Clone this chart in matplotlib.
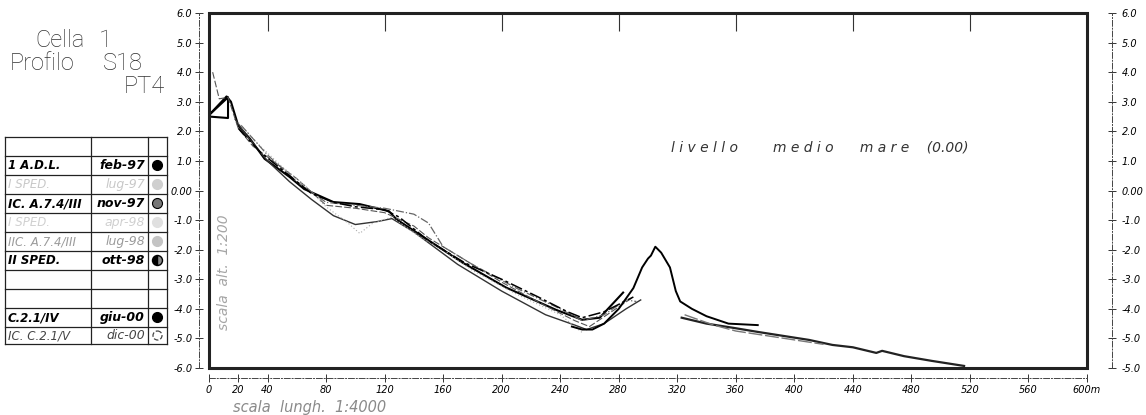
import matplotlib.pyplot as plt
from matplotlib.patches import Rectangle, Circle, Wedge

# ---- data read from the scanned profile (x in m, y in m s.l.m.) ----
feb97_x = [0, 13, 13, 0, 12, 15, 20, 28, 38, 55, 65, 85, 103, 123, 128, 173, 203, 237, 255, 267, 283]
feb97_y = [2.5, 2.45, 3.15, 2.55, 3.18, 3.0, 2.19, 1.75, 1.07, 0.46, 0.05, -0.39, -0.46, -0.70, -0.97,
           -2.43, -3.28, -4.03, -4.37, -4.30, -3.45]

lug97_x = [2.5, 7, 13, 20, 30, 45, 60, 80, 100, 120, 140, 150, 170, 200, 230, 250, 260, 275, 290]
lug97_y = [4.0, 3.1, 3.15, 2.1, 1.5, 0.95, 0.4, -0.5, -0.6, -0.75, -1.2, -1.6, -2.2, -3.1, -3.9, -4.4,
           -4.6, -4.1, -3.6]

nov97_x = [18, 25, 40, 55, 70, 85, 100, 115, 125, 140, 170, 200, 230, 250, 258, 270, 285, 295]
nov97_y = [2.4, 1.9, 1.0, 0.3, -0.3, -0.85, -1.15, -1.05, -0.95, -1.4, -2.5, -3.4, -4.2, -4.55, -4.7,
           -4.5, -4.0, -3.7]

apr98_x = [20, 35, 50, 65, 80, 95, 103, 112, 125, 145, 160, 180, 210, 240, 255]
apr98_y = [2.3, 1.5, 0.8, 0.2, -0.55, -1.1, -1.45, -1.1, -0.9, -1.6, -2.0, -2.7, -3.5, -4.2, -4.8]

lug98_x = [22, 40, 60, 80, 100, 120, 140, 150, 160, 180, 210, 240, 255, 270, 285, 292]
lug98_y = [2.2, 1.2, 0.3, -0.4, -0.5, -0.6, -0.8, -1.1, -1.9, -2.5, -3.3, -4.0, -4.4, -4.2, -3.7, -3.75]

ott98_x = [20, 35, 55, 70, 85, 100, 120, 130, 150, 175, 200, 225, 245, 255, 270, 290]
ott98_y = [2.1, 1.3, 0.5, -0.1, -0.4, -0.55, -0.65, -0.9, -1.7, -2.45, -3.0, -3.6, -4.1, -4.3, -4.1, -3.6]

giu00_x = [248, 255, 262, 270, 280, 290, 296, 300, 302, 305, 309, 315, 319, 322, 330, 340, 355, 375]
giu00_y = [-4.6, -4.7, -4.7, -4.5, -4.0, -3.3, -2.6, -2.3, -2.2, -1.9, -2.1, -2.6, -3.4, -3.75, -4.0,
           -4.25, -4.5, -4.55]

dic00_x = [323, 340, 358, 375, 397, 410, 426, 440, 456, 460, 475, 494, 516]
dic00_y = [-4.3, -4.5, -4.64, -4.78, -4.95, -5.05, -5.22, -5.3, -5.49, -5.42, -5.6, -5.76, -5.93]

tail_x = [325, 345, 360, 380, 400, 420]
tail_y = [-4.2, -4.55, -4.75, -4.9, -5.05, -5.2]

x_ticks = [0, 20, 40, 80, 120, 160, 200, 240, 280, 320, 360, 400, 440, 480, 520, 560, 600]
x_labels = ['0', '20', '40', '80', '120', '160', '200', '240', '280', '320', '360', '400', '440',
            '480', '520', '560', '600m']
y_ticks = [6, 5, 4, 3, 2, 1, 0, -1, -2, -3, -4, -5, -6]
y_labels_left = ['6.0', '5.0', '4.0', '3.0', '2.0', '1.0', '0.00', '-1.0', '-2.0', '-3.0', '-4.0',
                 '-5.0', '-6.0']
y_labels_right = ['6.0', '5.0', '4.0', '3.0', '2.0', '1.0', '0.00', '-1.0', '-2.0', '-3.0', '-4.0',
                  '-5.0', '-5.0']

# legend table
rilievi = ['1 A.D.L.', 'I SPED.', 'IC. A.7.4/III', 'I SPED.', 'IIC. A.7.4/III', 'II SPED.', '', '',
           'C.2.1/IV', 'IC. C.2.1/V']
date = ['feb-97', 'lug-97', 'nov-97', 'apr-98', 'lug-98', 'ott-98', '', '', 'giu-00', 'dic-00']
text_col = ['black', '#c8c8c8', 'black', '#d0d0d0', '#9a9a9a', 'black', 'black', 'black', 'black', '#444444']
dot_col = ['black', '#cfcfcf', '#777777', '#e0e0e0', '#c4c4c4', 'half', None, None, 'black', 'open']

W, H = 1146, 415
fig = plt.figure(figsize=(W / 100, H / 100), dpi=100)
ax = fig.add_axes([209 / W, 47 / H, (1087 - 209) / W, (368 - 13) / H])
ax.set_xlim(0, 600)
ax.set_ylim(-6, 6)

ax.plot(feb97_x, feb97_y, color='black', lw=1.5)
ax.plot(lug97_x, lug97_y, color='#555555', lw=0.8, ls=(0, (6, 2)))
ax.plot(nov97_x, nov97_y, color='#333333', lw=1.0)
ax.plot(apr98_x, apr98_y, color='#aaaaaa', lw=0.8, ls=(0, (1, 2)))
ax.plot(lug98_x, lug98_y, color='#666666', lw=0.9, ls='-.')
ax.plot(ott98_x, ott98_y, color='black', lw=1.1, ls=(0, (8, 2, 2, 2)))
ax.plot(giu00_x, giu00_y, color='black', lw=1.4)
ax.plot(dic00_x, dic00_y, color='#222222', lw=1.6)
ax.plot(tail_x, tail_y, color='#777777', lw=1.0, ls=(0, (10, 2)))

# thick frame
ax.add_patch(Rectangle((0, 0), 1, 1, transform=ax.transAxes, fill=False, lw=2.2,
                       edgecolor='#222222', clip_on=False, zorder=5))
ax.spines['top'].set_visible(False)
ax.spines['right'].set_visible(False)
for s in ['left', 'bottom']:
    ax.spines[s].set_position(('outward', 7))
    ax.spines[s].set_linestyle((0, (6, 2, 1, 2)))
    ax.spines[s].set_linewidth(0.7)
    ax.spines[s].set_color('#444444')

tick_font = dict(fontsize=7, style='italic')
ax.set_xticks(x_ticks)
ax.set_xticklabels(x_labels, **tick_font)
ax.set_yticks(y_ticks)
ax.set_yticklabels(y_labels_left, **tick_font)
ax.tick_params(direction='inout', length=6, width=0.7, pad=2, color='#333333')

top = ax.secondary_xaxis('top')
top.set_xticks(x_ticks[2::2])
top.tick_params(direction='in', length=13, width=0.8, labeltop=False, color='#333333')
top.spines['top'].set_visible(False)

axr = ax.twinx()
axr.set_ylim(-6, 6)
for s in ['left', 'top', 'bottom']:
    axr.spines[s].set_visible(False)
axr.spines['right'].set_position(('outward', 18))
axr.spines['right'].set_linestyle((0, (6, 2, 1, 2)))
axr.spines['right'].set_linewidth(0.7)
axr.spines['right'].set_color('#444444')
axr.set_yticks(y_ticks)
axr.set_yticklabels(y_labels_right, **tick_font)
axr.tick_params(direction='inout', length=6, width=0.7, pad=4, color='#333333')

ax.text(0.526, 0.62, 'l i v e l l o        m e d i o      m a r e    (0.00)', transform=ax.transAxes,
        fontsize=10, style='italic', color='#333333', va='center')
ax.text(0.017, 0.27, 'scala  alt.  1:200', transform=ax.transAxes, rotation=90, fontsize=10,
        style='italic', color='#a5a5a5', ha='center', va='center')
ax.text(0.027, -0.11, 'scala  lungh.  1:4000', transform=ax.transAxes, fontsize=10.5,
        style='italic', color='#8a8a8a', ha='left', va='center')

# ---- overlay in pixel coordinates for title and table ----
ov = fig.add_axes([0, 0, 1, 1])
ov.set_xlim(0, W)
ov.set_ylim(H, 0)
ov.axis('off')

title_font = dict(fontsize=17, family=['Liberation Sans Narrow', 'Roboto', 'DejaVu Sans'],
                  fontweight='light', color='#333333', va='baseline')
ov.text(35, 47, 'Cella', **title_font)
ov.text(99, 47, '1', **title_font)
ov.text(10, 70, 'Profilo', **title_font)
ov.text(103, 70, 'S18', **title_font)
ov.text(124, 93, 'PT4', **title_font)

col_x = [5, 91, 148, 167]
row_y = [137, 156, 175, 194, 213, 232, 251, 270, 289, 308, 327, 344]
for yy in row_y:
    ov.plot([col_x[0], col_x[-1]], [yy, yy], color='#222222', lw=0.9)
for xx in col_x:
    ov.plot([xx, xx], [row_y[0], row_y[-1]], color='#222222', lw=0.9)

for i in range(len(rilievi)):
    yc = (row_y[i + 1] + row_y[i + 2]) / 2
    bold = text_col[i] == 'black'
    ov.text(col_x[0] + 3, yc, rilievi[i], fontsize=8.5, style='italic', color=text_col[i],
            fontweight='semibold' if bold else 'normal', va='center', ha='left')
    ov.text(col_x[2] - 3, yc, date[i], fontsize=9, style='italic', color=text_col[i],
            fontweight='bold' if bold else 'normal', va='center', ha='right')
    cx = (col_x[2] + col_x[3]) / 2
    d = dot_col[i]
    if d is None:
        continue
    if d == 'half':
        ov.add_patch(Wedge((cx, yc), 5, 90, 270, facecolor='black', edgecolor='black'))
        ov.add_patch(Wedge((cx, yc), 5, 270, 90, facecolor='#888888', edgecolor='black'))
    elif d == 'open':
        ov.add_patch(Circle((cx, yc), 4.5, facecolor='white', edgecolor='#444444', lw=0.9, ls='--'))
    else:
        ov.add_patch(Circle((cx, yc), 5, facecolor=d, edgecolor='black' if d in ('black', '#777777') else d,
                            lw=0.8))

fig.savefig('out.png', dpi=100)
